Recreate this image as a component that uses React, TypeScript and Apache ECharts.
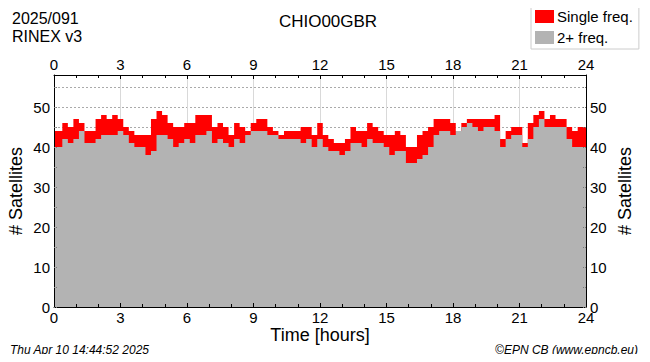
import React, { useEffect, useRef } from "react";
import * as echarts from "echarts";

const hours = [
  0, 0.25, 0.5, 0.75, 1, 1.25, 1.5, 1.75, 2, 2.25, 2.5, 2.75, 3, 3.25, 3.5, 3.75, 4, 4.25, 4.5, 4.75, 5, 5.25, 5.5, 5.75, 6,
  6.25, 6.5, 6.75, 7, 7.25, 7.5, 7.75, 8, 8.25, 8.5, 8.75, 9, 9.25, 9.5, 9.75, 10, 10.25, 10.5, 10.75, 11, 11.25, 11.5, 11.75, 12,
  12.25, 12.5, 12.75, 13, 13.25, 13.5, 13.75, 14, 14.25, 14.5, 14.75, 15, 15.25, 15.5, 15.75, 16, 16.25, 16.5, 16.75, 17, 17.25, 17.5, 17.75, 18,
  18.25, 18.5, 18.75, 19, 19.25, 19.5, 19.75, 20, 20.25, 20.5, 20.75, 21, 21.25, 21.5, 21.75, 22, 22.25, 22.5, 22.75, 23, 23.25, 23.5, 23.75, 24,
];

// total satellites (single + multi frequency)
const totalSats = [
  44, 44, 46, 45, 47, 46, 44, 44, 47, 48, 47, 48, 47, 45, 44, 43, 43, 43, 47, 49, 48, 46, 45, 45, 46,
  46, 48, 48, 48, 45, 46, 45, 43, 46, 45, 44, 46, 47, 47, 45, 44, 43, 44, 44, 44, 45, 45, 43, 46,
  43, 42, 41, 41, 42, 45, 44, 44, 46, 45, 44, 43, 43, 44, 43, 40, 40, 43, 44, 45, 47, 47, 47, 46,
  44, 46, 47, 47, 47, 47, 47, 48, 42, 44, 45, 45, 41, 46, 48, 49, 47, 48, 47, 47, 45, 44, 45, 45,
];

// satellites tracked on 2+ frequencies
const multiSats = [
  40, 40, 42, 41, 42, 44, 41, 41, 42, 43, 43, 43, 44, 43, 41, 40, 40, 38, 39, 43, 43, 42, 40, 41, 42,
  41, 43, 43, 44, 41, 42, 41, 40, 42, 41, 43, 44, 44, 44, 43, 43, 42, 42, 42, 42, 41, 42, 40, 42,
  40, 39, 39, 38, 39, 41, 41, 40, 42, 41, 41, 40, 38, 39, 39, 36, 36, 37, 38, 40, 43, 44, 44, 43,
  44, 45, 46, 45, 44, 45, 45, 44, 40, 42, 43, 43, 40, 42, 45, 47, 45, 45, 45, 45, 42, 40, 40, 40,
];

const seriesNames = ["Single freq.", "2+ freq."];
const seriesColors = ["#ff0000", "#b3b3b3"];
const headerLeft = ["2025/091", "RINEX v3"];
const stationName = "CHIO00GBR";
const footerLeft = "Thu Apr 10 14:44:52 2025";
const footerRight = "\u00A9EPN CB (www.epncb.eu)";

const FONT = "'Liberation Sans', Arial, Helvetica, sans-serif";

export default function App() {
  const ref = useRef<HTMLDivElement>(null);

  useEffect(() => {
    if (!ref.current) return;
    const chart = echarts.init(ref.current, undefined, { renderer: "svg" });

    const xCommon = { type: "value", min: 0, max: 24, interval: 3 };
    const yCommon = { type: "value", min: 0, max: 58, interval: 5 };
    const labelFmt = (v: number) => (v % 10 === 0 ? String(v) : "");

    const option: any = {
      animation: false,
      textStyle: { fontFamily: FONT },
      grid: { left: 54, top: 75, width: 532, height: 232, containLabel: false, outerBoundsMode: "none" },
      legend: {
        data: seriesNames,
        orient: "vertical",
        left: 531,
        top: 5,
        icon: "rect",
        itemWidth: 19,
        itemHeight: 13,
        itemGap: 6,
        padding: [4, 6, 4, 4],
        borderColor: "#cccccc",
        borderWidth: 1,
        textStyle: { fontSize: 15, color: "#000", fontFamily: FONT, padding: [0, 0, 0, -2] },
      },
      xAxis: [
        {
          ...xCommon,
          position: "bottom",
          z: 10,
          name: "Time [hours]",
          nameLocation: "middle",
          nameGap: 19,
          nameMoveOverlap: false,
          nameTextStyle: { fontSize: 18, color: "#000", fontFamily: FONT },
          axisLine: { show: true, onZero: false, lineStyle: { color: "#000", width: 1 } },
          axisTick: { show: true, inside: true, length: 4, lineStyle: { color: "#000" } },
          minorTick: { show: true, splitNumber: 3, length: 3, lineStyle: { color: "#000" } },
          axisLabel: { show: true, margin: 3, fontSize: 15, color: "#000", fontFamily: FONT },
          splitLine: { show: false },
        },
        {
          ...xCommon,
          position: "top",
          z: 10,
          axisLine: { show: true, onZero: false, lineStyle: { color: "#000", width: 1 } },
          axisTick: { show: true, inside: true, length: 4, lineStyle: { color: "#000" } },
          minorTick: { show: true, splitNumber: 3, length: 3, lineStyle: { color: "#000" } },
          axisLabel: { show: true, margin: 3, fontSize: 15, color: "#000", fontFamily: FONT },
          splitLine: { show: false },
        },
        {
          ...xCommon,
          position: "bottom",
          z: 0,
          axisLine: { show: false },
          axisTick: { show: false },
          axisLabel: { show: false },
          splitLine: { show: true, lineStyle: { color: "#d9d9d9", width: 1, type: "solid" } },
        },
      ],
      yAxis: [
        {
          ...yCommon,
          position: "left",
          z: 10,
          name: "# Satellites",
          nameLocation: "middle",
          nameRotate: 90,
          nameGap: 29,
          nameMoveOverlap: false,
          nameTextStyle: { fontSize: 18, color: "#000", fontFamily: FONT },
          axisLine: { show: true, onZero: false, lineStyle: { color: "#000", width: 1 } },
          axisTick: { show: true, inside: true, length: 4, lineStyle: { color: "#777", type: "dotted" } },
          axisLabel: { show: true, margin: 4, fontSize: 15, color: "#000", fontFamily: FONT, formatter: labelFmt, showMaxLabel: false },
          splitLine: { show: false },
        },
        {
          ...yCommon,
          position: "right",
          z: 10,
          name: "# Satellites",
          nameLocation: "middle",
          nameRotate: 90,
          nameGap: 30,
          nameMoveOverlap: false,
          nameTextStyle: { fontSize: 18, color: "#000", fontFamily: FONT },
          axisLine: { show: true, onZero: false, lineStyle: { color: "#000", width: 1 } },
          axisTick: { show: true, inside: true, length: 4, lineStyle: { color: "#777", type: "dotted" } },
          axisLabel: { show: true, margin: 4, fontSize: 15, color: "#000", fontFamily: FONT, formatter: labelFmt, showMaxLabel: false },
          splitLine: { show: false },
        },
        {
          ...yCommon,
          position: "left",
          z: 0,
          axisLine: { show: false },
          axisTick: { show: false },
          axisLabel: { show: false },
          splitLine: { show: true, lineStyle: { color: "#aaaaaa", width: 1, type: [2, 2] } },
        },
      ],
      series: [
        {
          name: seriesNames[0],
          type: "line",
          xAxisIndex: 0,
          yAxisIndex: 0,
          step: "middle",
          showSymbol: false,
          z: 2,
          data: hours.map((h, i) => [h, totalSats[i]]),
          itemStyle: { color: seriesColors[0] },
          lineStyle: { width: 0, color: seriesColors[0] },
          areaStyle: { color: seriesColors[0], opacity: 1 },
        },
        {
          name: seriesNames[1],
          type: "line",
          xAxisIndex: 0,
          yAxisIndex: 0,
          step: "middle",
          showSymbol: false,
          z: 3,
          data: hours.map((h, i) => [h, multiSats[i]]),
          itemStyle: { color: seriesColors[1] },
          lineStyle: { width: 0, color: seriesColors[1] },
          areaStyle: { color: seriesColors[1], opacity: 1 },
        },
      ],
      graphic: [
        {
          type: "text",
          x: 12,
          y: 10,
          style: { text: headerLeft[0], font: `16px ${FONT}`, fill: "#000", textAlign: "left", textVerticalAlign: "top" },
        },
        {
          type: "text",
          x: 12,
          y: 28,
          style: { text: headerLeft[1], font: `16px ${FONT}`, fill: "#000", textAlign: "left", textVerticalAlign: "top" },
        },
        {
          type: "text",
          x: 328,
          y: 21,
          style: { text: stationName, font: `17px ${FONT}`, fill: "#000", textAlign: "center", textVerticalAlign: "middle" },
        },
        {
          type: "text",
          x: 10,
          y: 350,
          style: { text: footerLeft, font: `italic 12px ${FONT}`, fill: "#000", textAlign: "left", textVerticalAlign: "middle" },
        },
        {
          type: "text",
          x: 638,
          y: 350,
          style: { text: footerRight, font: `italic 12px ${FONT}`, fill: "#000", textAlign: "right", textVerticalAlign: "middle" },
        },
      ],
    };

    chart.setOption(option);
    return () => chart.dispose();
  }, []);

  return <div ref={ref} style={{ width: 650, height: 362, margin: -8 }} />;
}
